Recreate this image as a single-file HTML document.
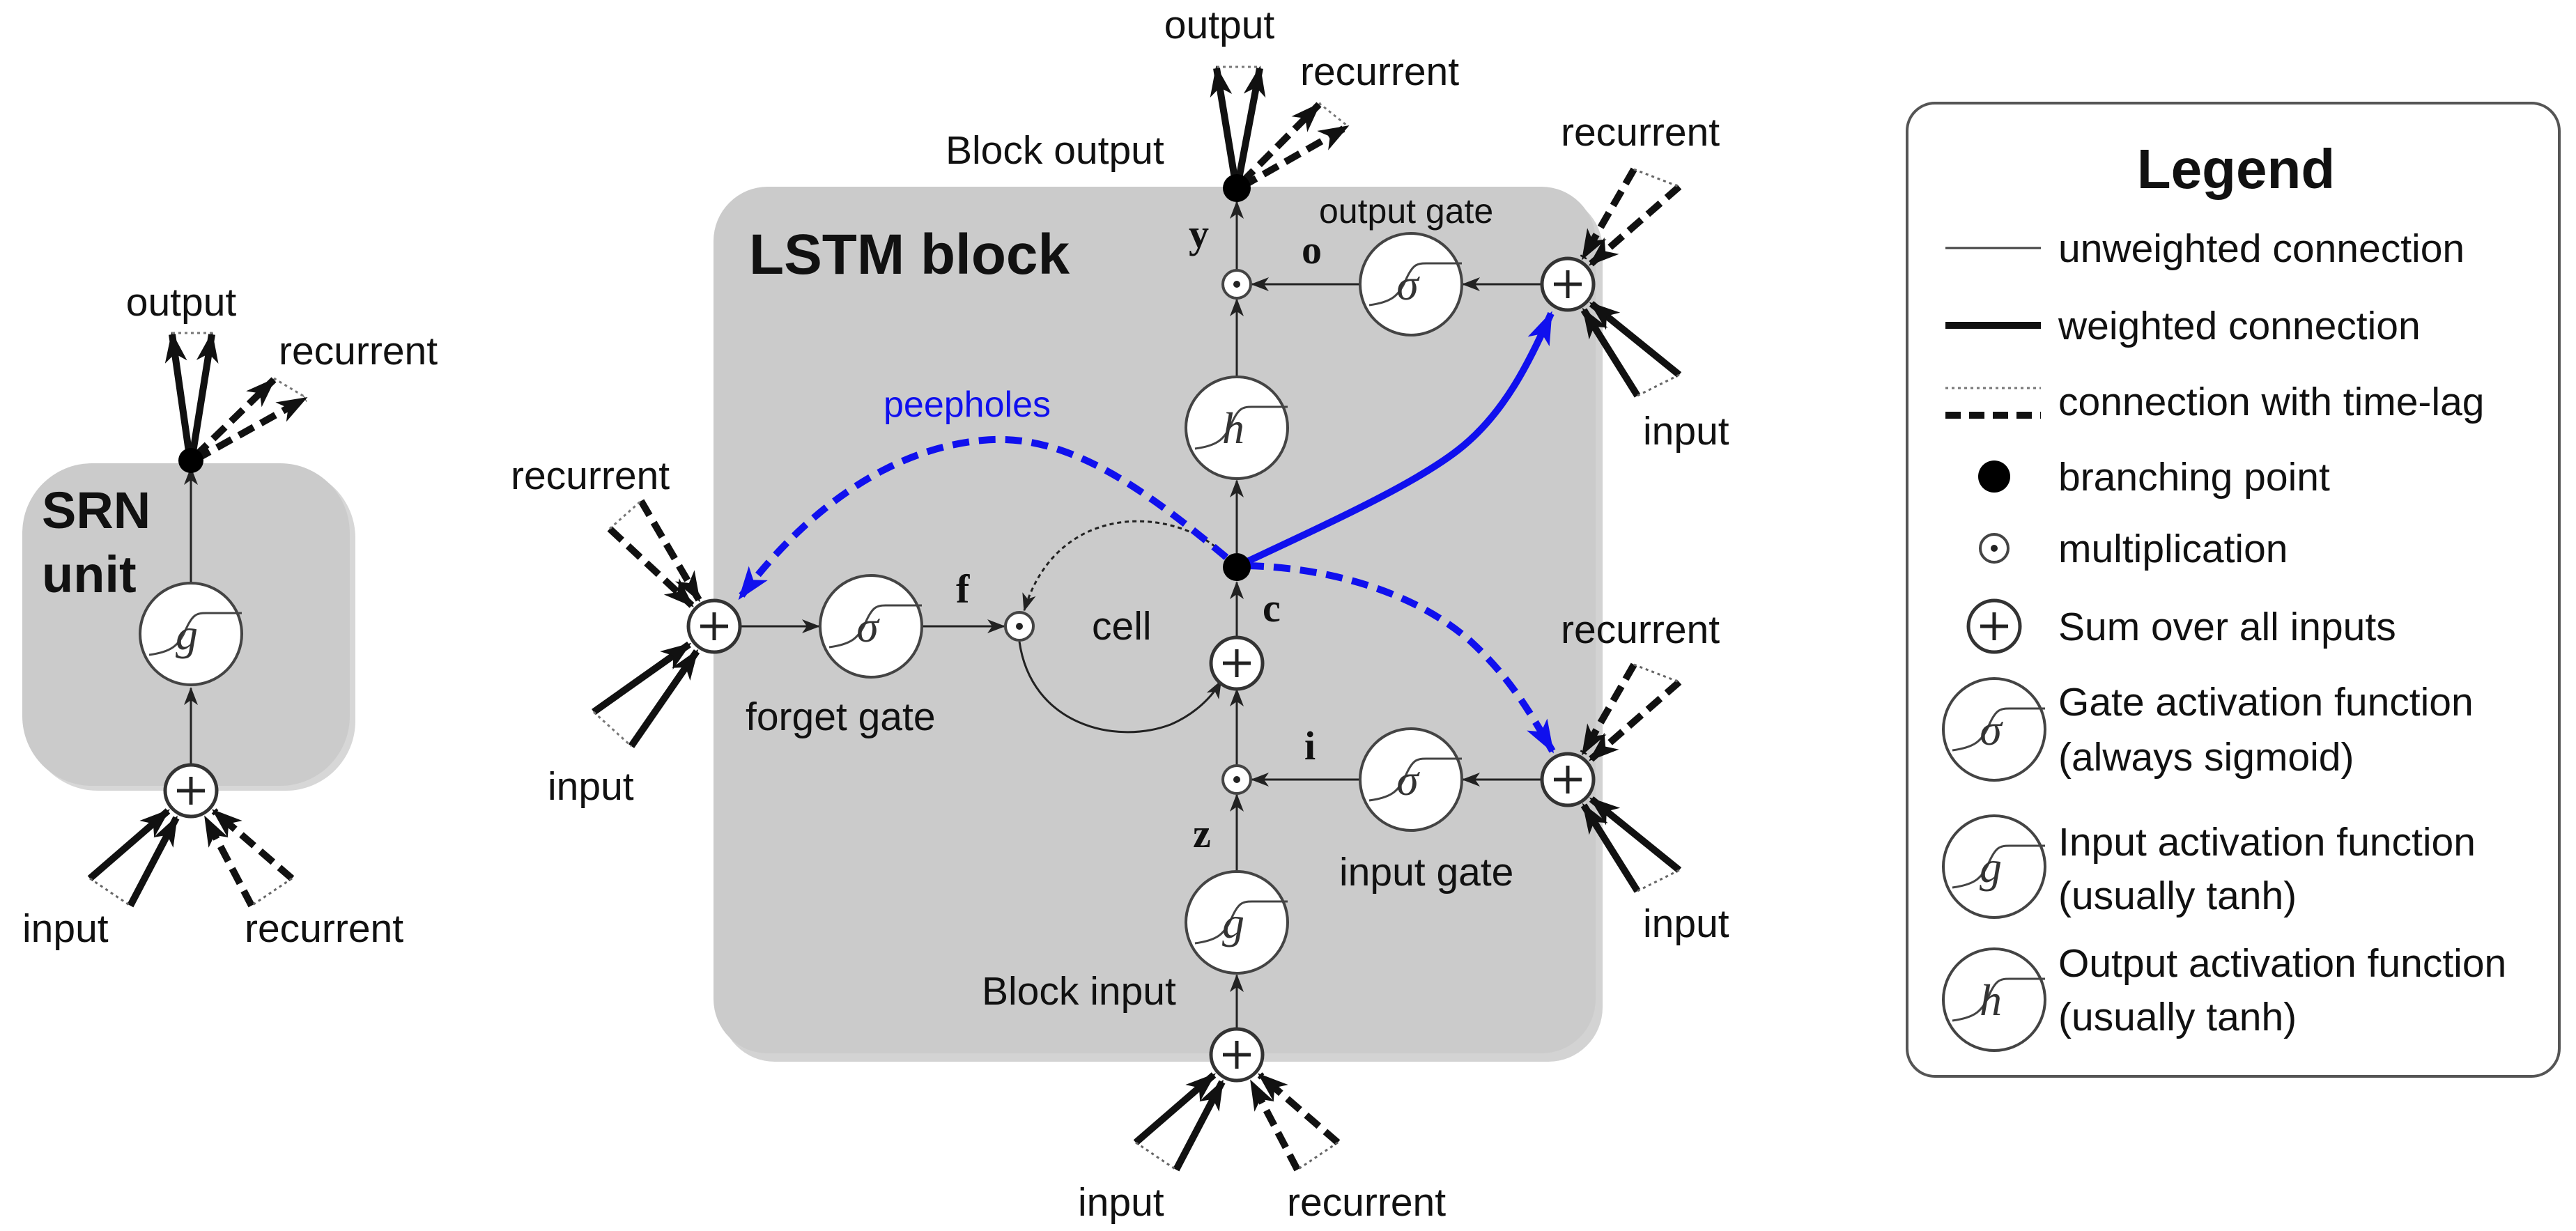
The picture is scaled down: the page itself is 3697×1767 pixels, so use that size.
<!DOCTYPE html>
<html><head><meta charset="utf-8"><style>
html,body{margin:0;padding:0;background:#fff;}
svg{display:block;}
text{font-family:"Liberation Sans",sans-serif;fill:#111;}
.lb{font-size:57px;}
.sm{font-size:50px;}
.gl{font-family:"Liberation Serif",serif;font-style:italic;font-size:64px;fill:#333;}
.vb{font-family:"Liberation Serif",serif;font-weight:bold;font-size:58px;}
</style></head><body>
<svg width="3697" height="1767" viewBox="0 0 3697 1767" xmlns="http://www.w3.org/2000/svg">
<defs>
<marker id="a" markerUnits="userSpaceOnUse" markerWidth="26" markerHeight="20" refX="24" refY="10" orient="auto"><path d="M0,0 L26,10 L0,20 L7,10 z" fill="#222"/></marker>
<marker id="T" markerUnits="userSpaceOnUse" markerWidth="44" markerHeight="32" refX="40" refY="16" orient="auto"><path d="M0,0 L44,16 L0,32 L12,16 z" fill="#111"/></marker>
<marker id="B" markerUnits="userSpaceOnUse" markerWidth="48" markerHeight="34" refX="44" refY="17" orient="auto"><path d="M0,0 L48,17 L0,34 L12,17 z" fill="#1010ee"/></marker>
<g id="sg"><circle r="73" fill="#fff" stroke="#444" stroke-width="4"/><path d="M-60,30 C-30,26 -18,18 -8,-5 S8,-30 22,-30 L73,-30" stroke="#444" stroke-width="3" fill="none"/></g>
<g id="sum"><circle r="37" fill="#fff" stroke="#333" stroke-width="5"/><path d="M-20,0 H20 M0,-20 V20" stroke="#222" stroke-width="5"/></g>
<g id="mul"><circle r="20" fill="#fff" stroke="#444" stroke-width="4"/><circle r="5" fill="#222"/></g>
<g id="inL" stroke="#111" stroke-width="10" fill="none"><line x1="-145" y1="126" x2="-33" y2="29" marker-end="url(#T)"/><line x1="-87" y1="165" x2="-21" y2="39" marker-end="url(#T)"/><line x1="-145" y1="126" x2="-87" y2="165" stroke-width="3" stroke-dasharray="4 5" stroke="#666"/></g>
<g id="recR" stroke="#111" stroke-width="10" fill="none"><line x1="145" y1="126" x2="33" y2="29" stroke-dasharray="24 12" marker-end="url(#T)"/><line x1="87" y1="165" x2="21" y2="39" stroke-dasharray="24 12" marker-end="url(#T)"/><line x1="145" y1="126" x2="87" y2="165" stroke-width="3" stroke-dasharray="4 5" stroke="#666"/></g>
<g id="recUR" stroke="#111" stroke-width="10" fill="none"><line x1="95" y1="-165" x2="22" y2="-38" stroke-dasharray="24 12" marker-end="url(#T)"/><line x1="160" y1="-140" x2="33" y2="-29" stroke-dasharray="24 12" marker-end="url(#T)"/><line x1="95" y1="-165" x2="160" y2="-140" stroke-width="3" stroke-dasharray="4 5" stroke="#666"/></g>
<g id="inLR" stroke="#111" stroke-width="10" fill="none"><line x1="100" y1="160" x2="23" y2="37" marker-end="url(#T)"/><line x1="160" y1="130" x2="34" y2="28" marker-end="url(#T)"/><line x1="100" y1="160" x2="160" y2="130" stroke-width="3" stroke-dasharray="4 5" stroke="#666"/></g>
</defs>

<!-- SRN -->
<rect x="40" y="672" width="470" height="463" rx="100" fill="#bdbdbd" opacity="0.6"/>
<rect x="32" y="665" width="470" height="463" rx="100" fill="#cbcbcb"/>
<text x="60" y="758" style="font-weight:bold;font-size:74px">SRN</text>
<text x="60" y="850" style="font-weight:bold;font-size:74px">unit</text>
<line x1="274" y1="1098" x2="274" y2="988" stroke="#222" stroke-width="3" marker-end="url(#a)"/>
<line x1="274" y1="836" x2="274" y2="672" stroke="#222" stroke-width="3" marker-end="url(#a)"/>
<use href="#sg" x="274" y="910"/><text class="gl" x="268" y="932" text-anchor="middle">g</text>
<use href="#sum" x="274" y="1135"/>
<use href="#inL" x="274" y="1135"/><use href="#recR" x="274" y="1135"/>
<g stroke="#111" stroke-width="10" fill="none">
<line x1="272" y1="655" x2="247" y2="480" marker-end="url(#T)"/><line x1="276" y1="655" x2="304" y2="480" marker-end="url(#T)"/>
<line x1="280" y1="655" x2="393" y2="545" stroke-dasharray="24 12" marker-end="url(#T)"/><line x1="280" y1="660" x2="438" y2="572" stroke-dasharray="24 12" marker-end="url(#T)"/>
</g>
<line x1="247" y1="478" x2="304" y2="478" stroke="#777" stroke-width="3" stroke-dasharray="4 5"/>
<line x1="393" y1="543" x2="438" y2="570" stroke="#777" stroke-width="3" stroke-dasharray="4 5"/>
<circle cx="274" cy="661" r="18" fill="#000"/>
<text class="lb" x="260" y="453" text-anchor="middle">output</text>
<text class="lb" x="400" y="523">recurrent</text>
<text class="lb" x="32" y="1352">input</text>
<text class="lb" x="351" y="1352">recurrent</text>

<!-- LSTM box -->
<rect x="1034" y="280" width="1266" height="1244" rx="78" fill="#b5b5b5" opacity="0.6"/>
<rect x="1024" y="268" width="1266" height="1244" rx="78" fill="#cbcbcb"/>
<text x="1075" y="393" style="font-weight:bold;font-size:82px">LSTM block</text>

<g stroke="#222" stroke-width="3" fill="none">
<line x1="1775" y1="1477" x2="1775" y2="1400" marker-end="url(#a)"/>
<line x1="1775" y1="1251" x2="1775" y2="1141" marker-end="url(#a)"/>
<line x1="1775" y1="1099" x2="1775" y2="990" marker-end="url(#a)"/>
<line x1="1775" y1="915" x2="1775" y2="836" marker-end="url(#a)"/>
<line x1="1775" y1="794" x2="1775" y2="690" marker-end="url(#a)"/>
<line x1="1775" y1="541" x2="1775" y2="430" marker-end="url(#a)"/>
<line x1="1775" y1="388" x2="1775" y2="290" marker-end="url(#a)"/>
<line x1="2213" y1="408" x2="2100" y2="408" marker-end="url(#a)"/>
<line x1="1952" y1="408" x2="1797" y2="408" marker-end="url(#a)"/>
<line x1="2213" y1="1119" x2="2100" y2="1119" marker-end="url(#a)"/>
<line x1="1952" y1="1119" x2="1797" y2="1119" marker-end="url(#a)"/>
<line x1="1062" y1="899" x2="1175" y2="899" marker-end="url(#a)"/>
<line x1="1323" y1="899" x2="1441" y2="899" marker-end="url(#a)"/>
<path d="M1463,921 C1480,1040 1600,1070 1680,1040 C1715,1025 1740,1000 1752,978" marker-end="url(#a)"/>
<path d="M1760,800 C1700,730 1520,710 1470,876" stroke-dasharray="6 5" marker-end="url(#a)"/>
</g>
<g fill="none" stroke="#1010ee" stroke-width="10">
<path d="M1760,800 C1640,700 1530,620 1410,632 C1270,645 1150,740 1062,858" stroke-dasharray="24 14" marker-end="url(#B)"/>
<path d="M1790,806 C1920,745 2040,690 2100,640 C2160,590 2195,520 2226,450" marker-end="url(#B)"/>
<path d="M1790,812 C1910,815 2030,850 2110,920 C2170,975 2200,1030 2228,1078" stroke-dasharray="24 14" marker-end="url(#B)"/>
</g>
<text x="1268" y="598" style="font-size:52px;fill:#1010ee">peepholes</text>

<use href="#sg" x="2025" y="408"/><text class="gl" x="2020" y="430" text-anchor="middle">σ</text>
<use href="#sg" x="1775" y="614"/><text class="gl" x="1770" y="636" text-anchor="middle">h</text>
<use href="#sg" x="2025" y="1119"/><text class="gl" x="2020" y="1141" text-anchor="middle">σ</text>
<use href="#sg" x="1775" y="1324"/><text class="gl" x="1770" y="1346" text-anchor="middle">g</text>
<use href="#sg" x="1250" y="899"/><text class="gl" x="1245" y="921" text-anchor="middle">σ</text>
<use href="#mul" x="1775" y="408"/><use href="#mul" x="1775" y="1119"/><use href="#mul" x="1463" y="899"/>
<use href="#sum" x="1775" y="952"/><use href="#sum" x="1775" y="1514"/>
<use href="#sum" x="2250" y="408"/><use href="#sum" x="2250" y="1119"/><use href="#sum" x="1025" y="899"/>
<circle cx="1775" cy="814" r="20" fill="#000"/>

<use href="#inL" x="1775" y="1514"/><use href="#recR" x="1775" y="1514"/>
<use href="#recUR" x="2250" y="408"/><use href="#inLR" x="2250" y="408"/>
<use href="#recUR" x="2250" y="1119"/><use href="#inLR" x="2250" y="1119"/>
<g stroke="#111" stroke-width="10" fill="none">
<line x1="875" y1="759" x2="993" y2="869" stroke-dasharray="24 12" marker-end="url(#T)"/>
<line x1="920" y1="719" x2="1003" y2="861" stroke-dasharray="24 12" marker-end="url(#T)"/>
<line x1="852" y1="1022" x2="989" y2="925" marker-end="url(#T)"/>
<line x1="906" y1="1071" x2="1000" y2="935" marker-end="url(#T)"/>
</g>
<line x1="875" y1="759" x2="920" y2="719" stroke="#777" stroke-width="3" stroke-dasharray="4 5"/>
<line x1="852" y1="1022" x2="906" y2="1071" stroke="#777" stroke-width="3" stroke-dasharray="4 5"/>
<g stroke="#111" stroke-width="10" fill="none">
<line x1="1773" y1="262" x2="1746" y2="98" marker-end="url(#T)"/><line x1="1777" y1="262" x2="1808" y2="98" marker-end="url(#T)"/>
<line x1="1782" y1="262" x2="1893" y2="150" stroke-dasharray="24 12" marker-end="url(#T)"/><line x1="1782" y1="268" x2="1933" y2="182" stroke-dasharray="24 12" marker-end="url(#T)"/>
</g>
<line x1="1746" y1="96" x2="1808" y2="96" stroke="#777" stroke-width="3" stroke-dasharray="4 5"/>
<line x1="1893" y1="148" x2="1933" y2="180" stroke="#777" stroke-width="3" stroke-dasharray="4 5"/>
<circle cx="1775" cy="270" r="20" fill="#000"/>

<text class="lb" x="1750" y="55" text-anchor="middle">output</text>
<text class="lb" x="1866" y="122">recurrent</text>
<text class="lb" x="1357" y="235">Block output</text>
<text class="sm" x="1893" y="320">output gate</text>
<text class="vb" x="1868" y="378">o</text>
<text class="vb" x="1706" y="355">y</text>
<text class="vb" x="1372" y="865">f</text>
<text class="lb" x="1567" y="918">cell</text>
<text class="vb" x="1812" y="892">c</text>
<text class="lb" x="1070" y="1048">forget gate</text>
<text class="vb" x="1872" y="1090">i</text>
<text class="vb" x="1712" y="1216">z</text>
<text class="lb" x="1922" y="1271">input gate</text>
<text class="lb" x="1409" y="1442">Block input</text>
<text class="lb" x="1547" y="1745">input</text>
<text class="lb" x="1847" y="1745">recurrent</text>
<text class="lb" x="2240" y="209">recurrent</text>
<text class="lb" x="2358" y="638">input</text>
<text class="lb" x="2240" y="923">recurrent</text>
<text class="lb" x="2358" y="1345">input</text>
<text class="lb" x="733" y="702">recurrent</text>
<text class="lb" x="786" y="1148">input</text>

<!-- Legend -->
<rect x="2737" y="148" width="936" height="1397" rx="40" fill="#fff" stroke="#555" stroke-width="4"/>
<text x="3209" y="270" text-anchor="middle" style="font-weight:bold;font-size:80px">Legend</text>
<line x1="2792" y1="356" x2="2929" y2="356" stroke="#444" stroke-width="3"/>
<line x1="2792" y1="467" x2="2929" y2="467" stroke="#111" stroke-width="10"/>
<line x1="2792" y1="557" x2="2929" y2="557" stroke="#777" stroke-width="3" stroke-dasharray="4 5"/>
<line x1="2792" y1="596" x2="2929" y2="596" stroke="#111" stroke-width="10" stroke-dasharray="22 12"/>
<circle cx="2862" cy="684" r="23" fill="#000"/>
<use href="#mul" x="2862" y="787"/>
<use href="#sum" x="2862" y="899"/>
<use href="#sg" x="2862" y="1047"/><text class="gl" x="2857" y="1069" text-anchor="middle">σ</text>
<use href="#sg" x="2862" y="1244"/><text class="gl" x="2857" y="1266" text-anchor="middle">g</text>
<use href="#sg" x="2862" y="1435"/><text class="gl" x="2857" y="1457" text-anchor="middle">h</text>
<text class="lb" x="2954" y="376">unweighted connection</text>
<text class="lb" x="2954" y="487">weighted connection</text>
<text class="lb" x="2954" y="596">connection with time-lag</text>
<text class="lb" x="2954" y="704">branching point</text>
<text class="lb" x="2954" y="807">multiplication</text>
<text class="lb" x="2954" y="919">Sum over all inputs</text>
<text class="lb" x="2954" y="1027">Gate activation function</text>
<text class="lb" x="2954" y="1106">(always sigmoid)</text>
<text class="lb" x="2954" y="1228">Input activation function</text>
<text class="lb" x="2954" y="1305">(usually tanh)</text>
<text class="lb" x="2954" y="1402">Output activation function</text>
<text class="lb" x="2954" y="1479">(usually tanh)</text>
</svg>
</body></html>
